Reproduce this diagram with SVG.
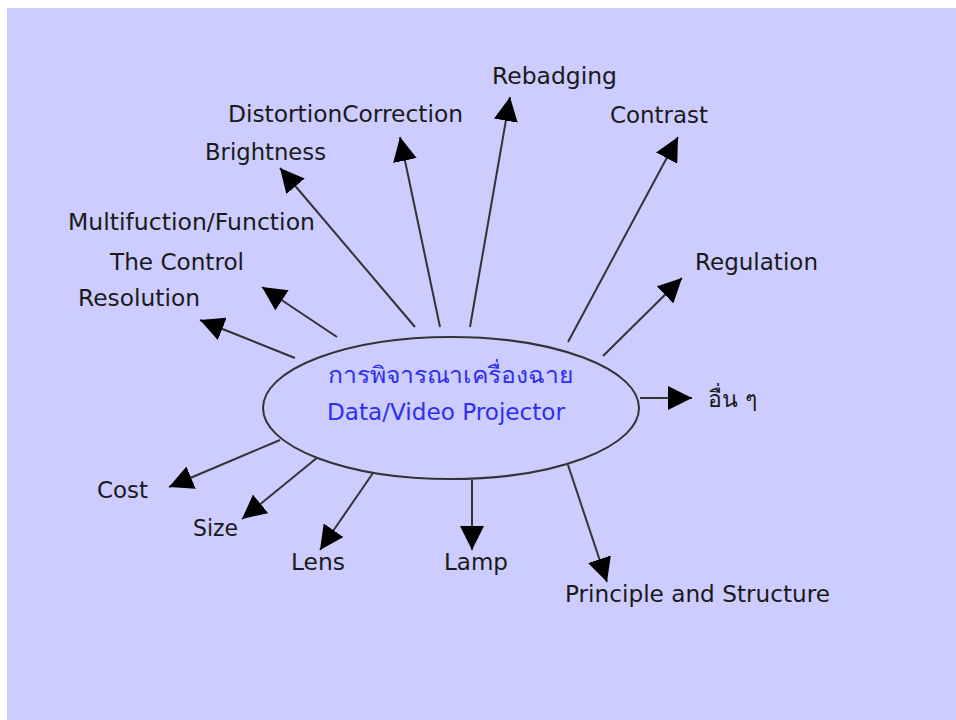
<svg xmlns="http://www.w3.org/2000/svg" width="956" height="720" viewBox="0 0 956 720">
<style>
.lbl{font-family:"DejaVu Sans","Noto Sans",sans-serif;font-size:23px;fill:#1a1a1a}
.ctr{font-family:"DejaVu Sans","Noto Sans","Noto Sans CJK SC",sans-serif;font-size:23px;fill:#2f2ff2}
.thai{font-family:"DejaVu Sans","Noto Sans","Noto Sans CJK SC",sans-serif;font-size:23px;fill:#1a1a1a}
.cn{stroke:#333;stroke-width:2;fill:none;marker-end:url(#ah)}
</style>
<defs>
<marker id="ah" markerUnits="userSpaceOnUse" markerWidth="26" markerHeight="24" refX="24" refY="12" orient="auto">
<path d="M0,0 L24,12 L0,24 z" fill="#000"/>
</marker>
</defs>
<rect x="0" y="0" width="956" height="720" fill="#fff"/>
<rect x="7" y="8" width="949" height="712" fill="#ccccff"/>
<g id="connectors">
<line class="cn" x1="295" y1="358" x2="200" y2="320"/>
<line class="cn" x1="337" y1="337" x2="262" y2="287"/>
<line class="cn" x1="415" y1="327" x2="280" y2="168"/>
<line class="cn" x1="440" y1="327" x2="400" y2="137"/>
<line class="cn" x1="470" y1="327" x2="510" y2="97"/>
<line class="cn" x1="568" y1="342" x2="678" y2="137"/>
<line class="cn" x1="603" y1="356" x2="682" y2="278"/>
<line class="cn" x1="640" y1="398" x2="692" y2="398"/>
<line class="cn" x1="568" y1="465" x2="607" y2="582"/>
<line class="cn" x1="472" y1="480" x2="472" y2="550"/>
<line class="cn" x1="373" y1="473" x2="320" y2="550"/>
<line class="cn" x1="318" y1="457" x2="242" y2="519"/>
<line class="cn" x1="280" y1="440" x2="169" y2="487"/>
</g>
<g id="center">
<ellipse cx="451" cy="408" rx="188" ry="71" fill="#ccccff" stroke="#333" stroke-width="2"/>
<text class="ctr" x="328" y="383" textLength="245" lengthAdjust="spacingAndGlyphs">การพิจารณาเครื่องฉาย</text>
<text class="ctr" x="327" y="420" textLength="238" lengthAdjust="spacingAndGlyphs">Data/Video Projector</text>
</g>
<g id="rebadging"><text class="lbl" x="492" y="84" textLength="125" lengthAdjust="spacingAndGlyphs">Rebadging</text></g>
<g id="distortion"><text class="lbl" x="228" y="122" textLength="235" lengthAdjust="spacingAndGlyphs">DistortionCorrection</text></g>
<g id="brightness"><text class="lbl" x="205" y="160" textLength="121" lengthAdjust="spacingAndGlyphs">Brightness</text></g>
<g id="contrast"><text class="lbl" x="610" y="123" textLength="98" lengthAdjust="spacingAndGlyphs">Contrast</text></g>
<g id="regulation"><text class="lbl" x="695" y="270" textLength="123" lengthAdjust="spacingAndGlyphs">Regulation</text></g>
<g id="multifunction"><text class="lbl" x="68" y="230" textLength="247" lengthAdjust="spacingAndGlyphs">Multifuction/Function</text></g>
<g id="control"><text class="lbl" x="110" y="270" textLength="134" lengthAdjust="spacingAndGlyphs">The Control</text></g>
<g id="resolution"><text class="lbl" x="78" y="306" textLength="122" lengthAdjust="spacingAndGlyphs">Resolution</text></g>
<g id="other"><text class="thai" x="708" y="407">อื่น ๆ</text></g>
<g id="principle"><text class="lbl" x="565" y="602" textLength="265" lengthAdjust="spacingAndGlyphs">Principle and Structure</text></g>
<g id="lamp"><text class="lbl" x="444" y="570" textLength="64" lengthAdjust="spacingAndGlyphs">Lamp</text></g>
<g id="lens"><text class="lbl" x="291" y="570" textLength="54" lengthAdjust="spacingAndGlyphs">Lens</text></g>
<g id="size"><text class="lbl" x="193" y="536" textLength="45" lengthAdjust="spacingAndGlyphs">Size</text></g>
<g id="cost"><text class="lbl" x="97" y="498" textLength="51" lengthAdjust="spacingAndGlyphs">Cost</text></g>
</svg>
